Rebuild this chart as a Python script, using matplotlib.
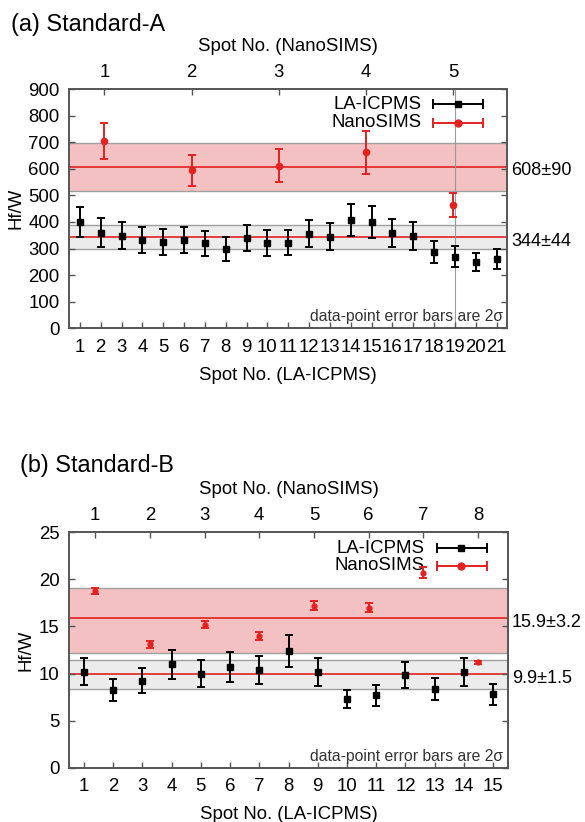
import matplotlib.pyplot as plt

plt.rcParams['font.family'] = ['Liberation Sans', 'DejaVu Sans']

# ------------------ DATA: Standard-A ------------------
a_la_spot = list(range(1, 22))
a_la_hfw = [400, 360, 348, 333, 325, 331, 319, 300, 340, 320, 322,
            356, 345, 408, 401, 360, 347, 287, 270, 250, 260]
a_la_err = [57, 54, 50, 49, 49, 49, 47, 45, 50, 49, 48,
            51, 51, 60, 60, 53, 51, 41, 39, 34, 38]
a_nano_spot = [1, 2, 3, 4, 5]
a_nano_hfw = [704, 595, 612, 662, 464]
a_nano_err = [68, 58, 62, 80, 46]
a_nano_band = [518, 608, 698]    # low, mean, high
a_la_band = [300, 344, 388]
a_labels = ['608±90', '344±44']

# ------------------ DATA: Standard-B ------------------
b_la_spot = list(range(1, 16))
b_la_hfw = [10.2, 8.25, 9.25, 11.0, 10.0, 10.7, 10.4, 12.4,
            10.15, 7.3, 7.7, 9.85, 8.35, 10.15, 7.8]
b_la_err = [1.4, 1.2, 1.3, 1.55, 1.4, 1.55, 1.5, 1.7,
            1.45, 1.0, 1.1, 1.4, 1.2, 1.45, 1.1]
b_nano_spot = [1, 2, 3, 4, 5, 6, 7, 8]
b_nano_hfw = [18.8, 13.1, 15.2, 14.0, 17.2, 17.0, 20.7, 11.2]
b_nano_err = [0.3, 0.35, 0.35, 0.45, 0.5, 0.5, 0.6, 0.15]
b_nano_band = [12.2, 15.9, 19.1]
b_la_band = [8.4, 9.9, 11.4]
b_labels = ['15.9±3.2', '9.9±1.5']

RED = '#e3211f'
FS = 13.4
FRAME = '#555555'


def panel(rect, title, title_y, la_spot, la_val, la_err, nano_spot, nano_val, nano_err,
          nano_band, la_band, labels, ylim, yticks, nano_xlim, legend_xy, nano_ms):
    ax = fig.add_axes(rect)
    ax.set_xlim(0.5, len(la_spot) + 0.5)
    ax.set_ylim(*ylim)
    ax.set_yticks(yticks)
    ax.set_xticks(la_spot)

    # bands
    ax.axhspan(nano_band[0], nano_band[2], color='#f3c1c1', zorder=0, lw=0)
    ax.axhspan(la_band[0], la_band[2], color='#ececec', zorder=0, lw=0)
    for v in (nano_band[0], nano_band[2], la_band[0], la_band[2]):
        ax.axhline(v, color='#a0a0a0', lw=1, zorder=1)
    ax.axhline(nano_band[1], color=RED, lw=1.2, zorder=1)
    ax.axhline(la_band[1], color=RED, lw=1.2, zorder=1)

    # LA-ICPMS points
    ax.errorbar(la_spot, la_val, yerr=la_err, fmt='s', color='black', ms=5,
                capsize=3, elinewidth=1.4, capthick=1.4, zorder=3)

    ax.tick_params(direction='in', length=4, width=1, color=FRAME, labelsize=FS,
                   right=True, top=False, pad=7)
    ax.tick_params(axis='x', pad=7.5)
    for s in ax.spines.values():
        s.set_color(FRAME)
        s.set_linewidth(1.4)
    ax.set_ylabel('Hf/W', fontsize=FS, labelpad=3)
    ax.set_xlabel('Spot No. (LA-ICPMS)', fontsize=FS, labelpad=8)

    # top axis for NanoSIMS
    ax2 = ax.twiny()
    ax2.set_xlim(*nano_xlim)
    ax2.set_xticks(nano_spot)
    ax2.tick_params(direction='in', length=4, width=1, color=FRAME, labelsize=FS, pad=6)
    for s in ax2.spines.values():
        s.set_visible(False)
    ax2.errorbar(nano_spot, nano_val, yerr=nano_err, fmt='o', color=RED, ms=nano_ms,
                 capsize=3, elinewidth=1.4, capthick=1.4, zorder=3)
    ax2.set_xlabel('Spot No. (NanoSIMS)', fontsize=FS, labelpad=9)

    # value labels on the right
    for lab, v in zip(labels, (nano_band[1], la_band[1])):
        ax.annotate(lab, xy=(1, v), xycoords=('axes fraction', 'data'),
                    xytext=(3, -3), textcoords='offset points',
                    ha='left', va='center', fontsize=13.0, annotation_clip=False)

    # legend drawn gnuplot-style
    tx, x0, xm, x1, y_rows = legend_xy
    for name, col, mk, y in (('LA-ICPMS', 'black', 's', y_rows[0]),
                             ('NanoSIMS', RED, 'o', y_rows[1])):
        ax.text(tx, y, name, transform=ax.transAxes, ha='right', va='center', fontsize=FS)
        ax.plot([x0, x1], [y, y], color=col, lw=1.4, transform=ax.transAxes, zorder=4)
        ax.plot([x0, x1], [y, y], ls='none', marker='|', ms=7, mew=1.4, color=col,
                transform=ax.transAxes, zorder=4)
        ax.plot([xm], [y], ls='none', marker=mk, ms=5, color=col,
                transform=ax.transAxes, zorder=4)

    ax.text(0.99, 0.048, 'data-point error bars are 2σ', transform=ax.transAxes,
            ha='right', va='center', fontsize=11.3, color='#333333')

    fig.text(title[1], title_y, title[0], fontsize=16.8, ha='left', va='center')
    return ax


fig = plt.figure(figsize=(5.85, 8.22), dpi=100)

ax_a = panel([0.1188, 0.6006, 0.7479, 0.2911], ('(a) Standard-A', 0.018), 1 - 24 / 822,
             a_la_spot, a_la_hfw, a_la_err, a_nano_spot, a_nano_hfw, a_nano_err,
             a_nano_band, a_la_band, a_labels, (0, 900), range(0, 901, 100),
             (0.6, 5.615), (0.805, 0.831, 0.889, 0.945, (0.937, 0.859)), 4.5)
# vertical guide at LA spot 19 / NanoSIMS spot 5
ax_a.axvline(19, color='#9a9a9a', lw=0.8, zorder=1)

ax_b = panel([0.1185, 0.0661, 0.7494, 0.2863], ('(b) Standard-B', 0.035), 1 - 465 / 822,
             b_la_spot, b_la_hfw, b_la_err, b_nano_spot, b_nano_hfw, b_nano_err,
             b_nano_band, b_la_band, b_labels, (0, 25), range(0, 26, 5),
             (0.53, 8.54), (0.811, 0.838, 0.893, 0.952, (0.932, 0.858)), 3.5)

fig.savefig('out.png', dpi=100)
